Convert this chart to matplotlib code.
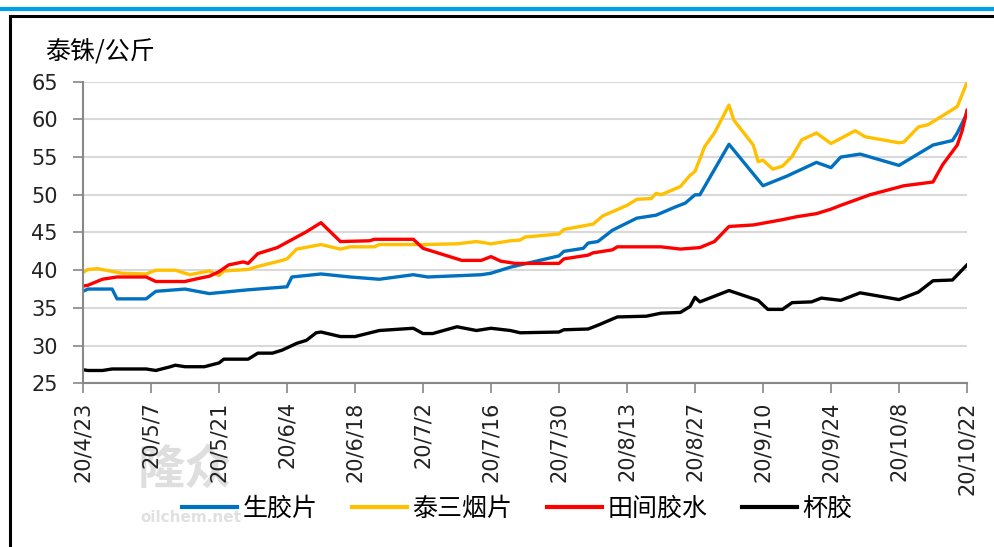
import matplotlib
matplotlib.use("Agg")
import matplotlib.pyplot as plt
import matplotlib.dates as mdates
from matplotlib.lines import Line2D
import pandas as pd

plt.rcParams['font.family'] = ['DejaVu Sans', 'Noto Sans CJK SC']

# 生胶片
blue_dates = ["4/23", "4/24", "4/29", "4/30", "5/6", "5/8", "5/14", "5/19", "5/27", "6/4",
              "6/5", "6/11", "6/17", "6/23", "6/30", "7/3", "7/14", "7/16", "7/20", "7/24",
              "7/30", "7/31", "8/4", "8/5", "8/7", "8/10", "8/15", "8/19", "8/23", "8/25",
              "8/27", "8/28", "9/3", "9/10", "9/15", "9/21", "9/24", "9/26", "9/30", "10/8",
              "10/15", "10/19", "10/20", "10/22"]
blue_vals = [37.2, 37.5, 37.5, 36.2, 36.2, 37.2, 37.5, 36.9, 37.4, 37.8,
             39.1, 39.5, 39.1, 38.8, 39.4, 39.1, 39.4, 39.6, 40.4, 41.0,
             41.9, 42.5, 42.9, 43.6, 43.8, 45.3, 46.9, 47.3, 48.4, 48.9,
             50.0, 50.0, 56.7, 51.2, 52.5, 54.3, 53.6, 55.0, 55.4, 53.9,
             56.6, 57.2, 58.2, 60.8]

# 泰三烟片
yellow_dates = ["4/23", "4/24", "4/26", "5/1", "5/6", "5/8", "5/12", "5/15", "5/19", "5/21",
                "5/22", "5/27", "5/29", "6/3", "6/4", "6/6", "6/11", "6/15", "6/17", "6/22",
                "6/23", "7/2", "7/9", "7/13", "7/16", "7/20", "7/22", "7/23", "7/30", "7/31",
                "8/5", "8/6", "8/8", "8/13", "8/15", "8/18", "8/19", "8/20", "8/24", "8/26",
                "8/27", "8/29", "8/31", "9/3", "9/4", "9/8", "9/9", "9/10", "9/12", "9/14",
                "9/16", "9/18", "9/21", "9/24", "9/29", "10/1", "10/8", "10/9", "10/12", "10/14",
                "10/16", "10/20", "10/22"]
yellow_vals = [39.7, 40.1, 40.2, 39.6, 39.5, 40.0, 40.0, 39.4, 39.9, 39.3,
               39.9, 40.1, 40.5, 41.3, 41.5, 42.8, 43.4, 42.8, 43.1, 43.1,
               43.4, 43.4, 43.5, 43.8, 43.5, 43.9, 44.0, 44.4, 44.8, 45.4,
               46.0, 46.1, 47.2, 48.6, 49.4, 49.5, 50.2, 50.0, 51.1, 52.6,
               53.1, 56.4, 58.2, 61.9, 59.9, 56.6, 54.4, 54.6, 53.4, 53.8,
               55.1, 57.3, 58.2, 56.8, 58.5, 57.7, 56.9, 57.0, 59.0, 59.3,
               60.1, 61.7, 64.9]

# 田间胶水
red_dates = ["4/23", "4/24", "4/27", "4/30", "5/6", "5/8", "5/14", "5/16", "5/19", "5/21",
             "5/23", "5/26", "5/27", "5/29", "6/2", "6/6", "6/8", "6/11", "6/15", "6/21",
             "6/22", "6/30", "7/2", "7/10", "7/14", "7/16", "7/18", "7/21", "7/30", "7/31",
             "8/5", "8/6", "8/10", "8/11", "8/20", "8/24", "8/28", "8/31", "9/3", "9/8",
             "9/14", "9/17", "9/21", "9/24", "9/26", "10/2", "10/9", "10/15", "10/17", "10/20",
             "10/21", "10/22"]
red_vals = [37.9, 38.0, 38.8, 39.1, 39.1, 38.5, 38.5, 38.8, 39.2, 39.8,
            40.7, 41.1, 40.9, 42.2, 43.0, 44.4, 45.1, 46.3, 43.8, 43.9,
            44.1, 44.1, 42.9, 41.3, 41.3, 41.8, 41.2, 40.9, 40.9, 41.5,
            42.0, 42.3, 42.7, 43.1, 43.1, 42.8, 43.0, 43.8, 45.8, 46.0,
            46.7, 47.1, 47.5, 48.1, 48.6, 50.0, 51.2, 51.7, 54.0, 56.6,
            58.5, 61.2]

# 杯胶
black_dates = ["4/23", "4/24", "4/27", "4/29", "5/6", "5/8", "5/11", "5/12", "5/14", "5/18",
               "5/21", "5/22", "5/27", "5/29", "6/1", "6/3", "6/6", "6/8", "6/10", "6/11",
               "6/15", "6/18", "6/23", "6/30", "7/2", "7/4", "7/9", "7/13", "7/16", "7/20",
               "7/22", "7/30", "7/31", "8/5", "8/7", "8/11", "8/17", "8/20", "8/24", "8/26",
               "8/27", "8/28", "9/3", "9/9", "9/11", "9/14", "9/16", "9/20", "9/22", "9/26",
               "9/30", "10/8", "10/12", "10/15", "10/19", "10/22"]
black_vals = [26.8, 26.7, 26.7, 26.9, 26.9, 26.7, 27.2, 27.4, 27.2, 27.2,
              27.7, 28.2, 28.2, 29.0, 29.0, 29.4, 30.3, 30.7, 31.7, 31.8,
              31.2, 31.2, 32.0, 32.3, 31.6, 31.6, 32.5, 32.0, 32.3, 32.0,
              31.7, 31.8, 32.1, 32.2, 32.7, 33.8, 33.9, 34.3, 34.4, 35.2,
              36.4, 35.8, 37.3, 36.0, 34.8, 34.8, 35.7, 35.8, 36.3, 36.0,
              37.0, 36.1, 37.1, 38.6, 38.7, 40.7]

series = [
    ("生胶片", blue_dates, blue_vals, "#0070C0"),
    ("泰三烟片", yellow_dates, yellow_vals, "#FFC000"),
    ("田间胶水", red_dates, red_vals, "#FF0000"),
    ("杯胶", black_dates, black_vals, "#000000"),
]


def to_dt(lst):
    return pd.to_datetime(["2020/" + s for s in lst], format="%Y/%m/%d")


fig = plt.figure(figsize=(9.95, 5.47), dpi=100)
ax = fig.add_axes([83 / 995, 1 - 383.3 / 547, (967 - 83) / 995, (383.3 - 81.7) / 547])
ax.patch.set_alpha(0)

for name, d, v, c in series:
    ax.plot(to_dt(d), v, color=c, lw=2.4, label=name, solid_joinstyle="round")

start, end = pd.Timestamp("2020-04-23"), pd.Timestamp("2020-10-22")
ax.set_xlim(start, end)
ticks = pd.date_range(start, end, freq="14D")
ax.set_xticks(ticks)
ax.set_xticklabels([f"20/{t.month}/{t.day}" for t in ticks], rotation=90, fontsize=15)
ax.set_ylim(25, 65)
ax.set_yticks(range(25, 66, 5))
ax.tick_params(axis="y", labelsize=15, pad=11, length=7, color="#888888", width=1.2)
ax.tick_params(axis="x", pad=6, length=7, color="#888888", width=1.2)
for lab in ax.get_xticklabels() + ax.get_yticklabels():
    lab.set_color("#222222")

ax.grid(axis="y", color="#d9d9d9", lw=1.5)
ax.set_axisbelow(True)
for s in ["top", "right"]:
    ax.spines[s].set_visible(False)
for s in ["left", "bottom"]:
    ax.spines[s].set_color("#888888")
    ax.spines[s].set_linewidth(1.5)

fig.text(45 / 995, 1 - 53 / 547, "泰铢/公斤", fontsize=18, va="center", ha="left",
         family=["Noto Sans CJK SC", "DejaVu Sans"])

leg = fig.legend(loc="center", bbox_to_anchor=(0.52, 1 - 509 / 547), ncol=4, frameon=False,
                 prop={"family": ["Noto Sans CJK SC"], "size": 18},
                 handlelength=2.2, handletextpad=0.2, columnspacing=1.4)
for h in leg.get_lines():
    h.set_linewidth(3)

# 水印
fig.text(138 / 995, 1 - 470 / 547, "隆众", fontsize=34, color="#dedede", weight="bold",
         va="center", ha="left", family=["Noto Sans CJK SC"], zorder=-1)
fig.text(140 / 995, 1 - 518 / 547, "oilchem.net", fontsize=11, color="#e0e0e0", weight="bold",
         va="center", ha="left", zorder=-1)

# 边框
fig.add_artist(Line2D([0, 1], [1 - 9 / 547, 1 - 9 / 547], color="#00A0E9", lw=3,
                      transform=fig.transFigure))
fig.add_artist(Line2D([10.5 / 995, 10.5 / 995], [0, 1 - 15.5 / 547], color="black", lw=2.2,
                      transform=fig.transFigure))
fig.add_artist(Line2D([10.5 / 995, 1], [1 - 15.5 / 547, 1 - 15.5 / 547], color="black", lw=2.2,
                      transform=fig.transFigure))

fig.savefig("out.png", dpi=100)
